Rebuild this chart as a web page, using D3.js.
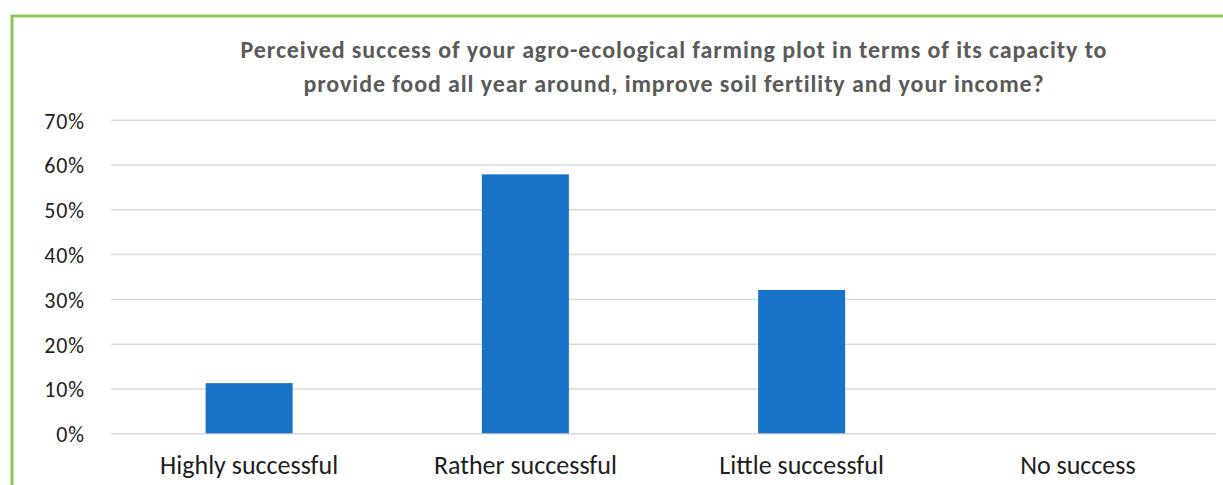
<!DOCTYPE html>
<html>
<head>
<meta charset="utf-8">
<script src="https://cdn.jsdelivr.net/npm/d3@7"></script>
<style>
  html, body { margin: 0; padding: 0; background: #fff; }
  svg { display: block; }
</style>
</head>
<body>
<script>
// Survey answers: share of respondents per perceived-success level
const categories = ["Highly successful", "Rather successful", "Little successful", "No success"];
const shares = [0.112, 0.578, 0.32, 0];
const yTicks = [0, 0.1, 0.2, 0.3, 0.4, 0.5, 0.6, 0.7];
const titleLines = [
  "Perceived success of your agro-ecological farming plot in terms of its capacity to",
  "provide food all year around, improve soil fertility and your income?"
];

const W = 1223, H = 485;
const font = "Carlito, Calibri, Lato, 'Open Sans', sans-serif";

const svg = d3.select("body").append("svg")
  .attr("width", W).attr("height", H);

svg.append("rect").attr("width", W).attr("height", H).attr("fill", "#fff");

// Green frame (top and left edges visible)
svg.append("line").attr("x1", 11).attr("x2", W).attr("y1", 16).attr("y2", 16)
  .attr("stroke", "#8cc55a").attr("stroke-width", 3);
svg.append("line").attr("x1", 12).attr("x2", 12).attr("y1", 15).attr("y2", H)
  .attr("stroke", "#8cc55a").attr("stroke-width", 3);

const x = d3.scaleBand()
  .domain(categories)
  .range([111, 1216])
  .paddingInner(0.685)
  .paddingOuter(0.3425);

const y = d3.scaleLinear()
  .domain([0, 0.7])
  .range([433.3, 119.7]);

// Horizontal gridlines and percentage labels
const yAxis = d3.axisLeft(y)
  .tickValues(yTicks)
  .tickFormat(d3.format(".0%"))
  .tickSize(-(1216 - 111))
  .tickPadding(26);

const gy = svg.append("g")
  .attr("transform", "translate(111,0)")
  .call(yAxis);
gy.select(".domain").remove();
gy.selectAll(".tick line").attr("stroke", "#d9d9d9").attr("stroke-width", 1.5);
gy.selectAll(".tick text")
  .attr("fill", "#1e1e1e")
  .attr("font-family", font)
  .attr("font-size", 22)
  .attr("letter-spacing", 0.9)
  .attr("dy", "0.38em");

// Bars
svg.append("g").selectAll("rect")
  .data(categories.map((c, i) => ({ c, v: shares[i] })))
  .join("rect")
  .attr("x", d => x(d.c))
  .attr("width", x.bandwidth())
  .attr("y", d => y(d.v))
  .attr("height", d => y(0) - y(d.v))
  .attr("fill", "#1872c8");

// Category labels
const xAxis = d3.axisBottom(x).tickSize(0).tickPadding(0);
const gx = svg.append("g")
  .attr("transform", "translate(0,474)")
  .call(xAxis);
gx.select(".domain").remove();
gx.selectAll(".tick text")
  .attr("fill", "#1e1e1e")
  .attr("font-family", font)
  .attr("font-size", 26)
  .attr("dy", 0);

// Title
svg.append("text")
  .attr("text-anchor", "middle")
  .attr("font-family", font)
  .attr("font-weight", "bold")
  .attr("font-size", 24)
  .attr("letter-spacing", 0.9)
  .attr("fill", "#5a5a5a")
  .selectAll("tspan")
  .data(titleLines)
  .join("tspan")
  .attr("x", 674)
  .attr("y", (d, i) => 58 + i * 34)
  .text(d => d);
</script>
</body>
</html>
